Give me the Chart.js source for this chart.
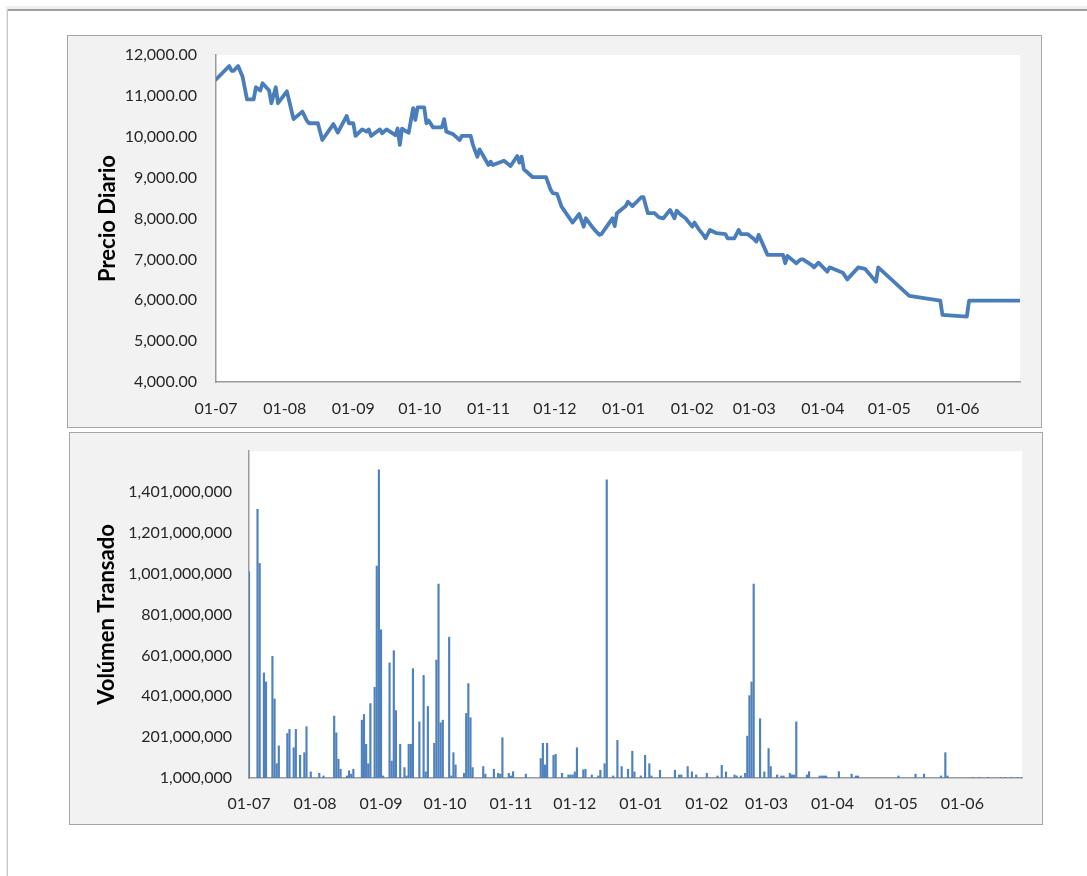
<!DOCTYPE html>
<html><head><meta charset="utf-8">
<script src="https://cdn.jsdelivr.net/npm/chart.js@4.4.1/dist/chart.umd.min.js"></script>
<style>
html,body{margin:0;padding:0;background:#fff;width:1087px;height:876px;overflow:hidden;position:relative}
.topband{position:absolute;left:6px;top:6px;width:1081px;height:3px;background:#efefef}
.topline{position:absolute;left:7px;top:9px;width:1080px;height:2px;background:#a0a0a0}
.leftband{position:absolute;left:6px;top:9px;width:1px;height:867px;background:#eeeeee}
.leftline{position:absolute;left:7px;top:9px;width:1px;height:867px;background:#c6c6c6}
.frame{position:absolute;background:#f2f2f2;box-sizing:border-box;border:1.5px solid #a6a6a6}
canvas{position:absolute}
</style></head><body>
<div class="topband"></div><div class="topline"></div><div class="leftband"></div><div class="leftline"></div>
<div class="frame" style="left:67px;top:35px;width:975px;height:393px"></div>
<canvas id="c1" width="975" height="393" style="left:67px;top:35px"></canvas>
<div class="frame" style="left:69px;top:432px;width:974px;height:393px"></div>
<canvas id="c2" width="974" height="393" style="left:69px;top:432px"></canvas>
<script>
// ---- data (x = days since 01-07) ----
const monthTickDays   = [0, 31, 62, 92, 123, 153, 184, 215, 243, 274, 304, 335];
const monthTickLabels = ['01-07','01-08','01-09','01-10','01-11','01-12','01-01','01-02','01-03','01-04','01-05','01-06'];
const lastDay = 363;

const priceDays = [0,6,7,8,10,12,14,17,18,20,21,24,25,27,28,32,35,39,41,42,46,48,53,55,59,60,62,63,66,68,69,70,74,75,77,81,82,83,84,86,87,89,90,91,94,95,96,98,102,103,104,107,110,111,115,116,118,119,123,124,125,130,133,136,137,138,139,143,149,151,152,154,156,161,164,166,167,170,171,173,174,179,180,181,185,186,188,192,193,195,198,200,202,205,207,208,210,212,215,216,218,220,221,223,226,230,231,234,236,237,240,243,244,245,249,256,257,258,262,264,265,269,270,272,276,277,283,285,290,293,298,299,306,313,327,328,339,340,363];
const priceValues = [11400,11730,11615,11615,11730,11470,10915,10915,11210,11130,11310,11130,10820,11210,10820,11110,10430,10615,10395,10330,10330,9920,10310,10100,10510,10330,10330,10020,10180,10125,10180,10020,10180,10085,10180,10040,10200,9800,10200,10125,10100,10700,10410,10720,10720,10330,10395,10230,10230,10430,10125,10065,9920,10020,10020,9800,9510,9690,9310,9390,9310,9415,9285,9530,9365,9510,9205,9010,9010,8715,8620,8600,8290,7900,8110,7800,8005,7785,7720,7600,7620,8005,7815,8130,8305,8410,8305,8520,8520,8130,8130,8030,8005,8210,8005,8190,8085,8005,7800,7900,7735,7600,7515,7720,7640,7620,7515,7515,7720,7620,7620,7490,7435,7600,7110,7110,6905,7085,6905,7000,7000,6860,6805,6920,6700,6805,6675,6510,6805,6770,6455,6805,6455,6105,5990,5640,5600,5990,5990];
const priceTicks = [4000,5000,6000,7000,8000,9000,10000,11000,12000];

const volumeDays = [0,4,5,7,8,11,12,13,14,18,19,21,22,24,26,27,29,33,35,40,41,42,43,46,47,48,49,53,54,55,56,57,59,60,61,62,63,66,67,68,69,71,73,74,75,76,77,80,82,83,84,87,88,89,90,91,94,95,96,97,101,102,103,104,105,110,111,115,117,118,119,122,123,124,130,137,138,139,140,143,144,147,150,151,152,153,154,157,158,161,164,165,167,168,171,173,175,178,180,181,184,186,188,189,193,200,202,203,206,208,210,215,220,222,224,228,229,231,233,234,235,236,237,240,242,244,245,248,250,251,254,255,256,257,262,263,268,269,270,271,277,283,285,286,305,313,317,325,327,328,340,343,347,353,355,358,361,363];
const volumeMillions = [1010,1315,1051,515,471,596,388,71,158,219,239,149,239,112,125,252,31,24,11,304,222,93,44,11,36,20,44,284,312,166,71,365,445,1038,1509,726,11,564,84,624,331,166,52,11,166,166,536,276,503,31,351,171,578,950,271,284,690,11,125,65,24,317,463,296,52,57,20,44,24,20,198,24,11,32,20,96,171,65,171,112,117,24,16,16,16,31,149,41,44,16,11,39,71,1460,11,185,57,44,132,31,11,112,71,11,39,39,16,16,57,31,16,24,11,63,31,16,11,11,24,206,404,471,950,291,31,145,57,16,11,11,24,16,16,276,16,32,11,11,11,11,32,20,11,11,11,20,20,11,125,11,4,4,4,4,4,4,4,4];
const volumeTicks = [1000000,201000000,401000000,601000000,801000000,1001000000,1201000000,1401000000];

// ---- styling ----
const FONT = 'Lato, "Open Sans", sans-serif';
const TXT = '#262626';
const AXIS = '#9a9a9a';
const plotBg = {id:'plotBg', beforeDraw(chart){const {ctx, chartArea:a}=chart; ctx.save(); ctx.fillStyle='#ffffff'; ctx.fillRect(a.left,a.top,a.right-a.left,a.bottom-a.top); ctx.restore();}};

function xScale(padding, h){
  return {
    type:'linear', min:0, max:lastDay, offset:false,
    grid:{display:false}, border:{display:true,color:AXIS,width:1.5},
    afterBuildTicks(s){ s.ticks = monthTickDays.map(v=>({value:v})); },
    afterFit(s){ s.height = h; },
    ticks:{autoSkip:false, maxRotation:0, padding:padding, color:TXT, font:{family:FONT,size:16},
      callback:(v,i)=>monthTickLabels[i]}
  };
}
function yFit(w){
  return function(s){ s.width = w; s.paddingTop = 0; s.paddingBottom = 0; };
}

new Chart(document.getElementById('c1'), {
  type:'line',
  data:{datasets:[{
    data: priceDays.map((d,i)=>({x:d, y:priceValues[i]})),
    borderColor:'#4a7ebb', borderWidth:3.8, pointRadius:0, tension:0,
    borderJoinStyle:'round', borderCapStyle:'round'
  }]},
  options:{
    responsive:false, animation:false, devicePixelRatio:1,
    layout:{padding:{left:28, top:20, right:22, bottom:0}},
    plugins:{legend:{display:false}, tooltip:{enabled:false}},
    scales:{
      x: xScale(9, 46),
      y:{
        min:4000, max:12000,
        grid:{display:false}, border:{display:true,color:AXIS,width:1.5},
        afterBuildTicks(s){ s.ticks = priceTicks.map(v=>({value:v})); },
        afterFit: yFit(121),
        ticks:{padding:11, color:TXT, font:{family:FONT,size:16},
          callback:v=>Number(v).toLocaleString('en-US',{minimumFractionDigits:2,maximumFractionDigits:2})},
        title:{display:true, text:'Precio Diario', color:'#000', padding:0,
          font:{family:FONT,size:22,weight:'bold'}}
      }
    }
  },
  plugins:[plotBg]
});

new Chart(document.getElementById('c2'), {
  type:'bar',
  data:{datasets:[{
    data: volumeDays.map((d,i)=>({x:d, y:volumeMillions[i]*1e6})),
    backgroundColor:'#4f81bd', borderWidth:0, barThickness:1.5, grouped:false
  }]},
  options:{
    responsive:false, animation:false, devicePixelRatio:1,
    layout:{padding:{left:25, top:19, right:21, bottom:0}},
    plugins:{legend:{display:false}, tooltip:{enabled:false}},
    scales:{
      x: xScale(8, 47),
      y:{
        min:1000000, max:1601000000,
        grid:{display:false}, border:{display:true,color:AXIS,width:1.5},
        afterBuildTicks(s){ s.ticks = volumeTicks.map(v=>({value:v})); },
        afterFit: yFit(155),
        ticks:{padding:9, color:TXT, font:{family:FONT,size:16},
          callback:v=>Number(v).toLocaleString('en-US')},
        title:{display:true, text:'Volúmen Transado', color:'#000', padding:0,
          font:{family:FONT,size:22,weight:'bold'}}
      }
    }
  },
  plugins:[plotBg]
});
</script>
</body></html>
